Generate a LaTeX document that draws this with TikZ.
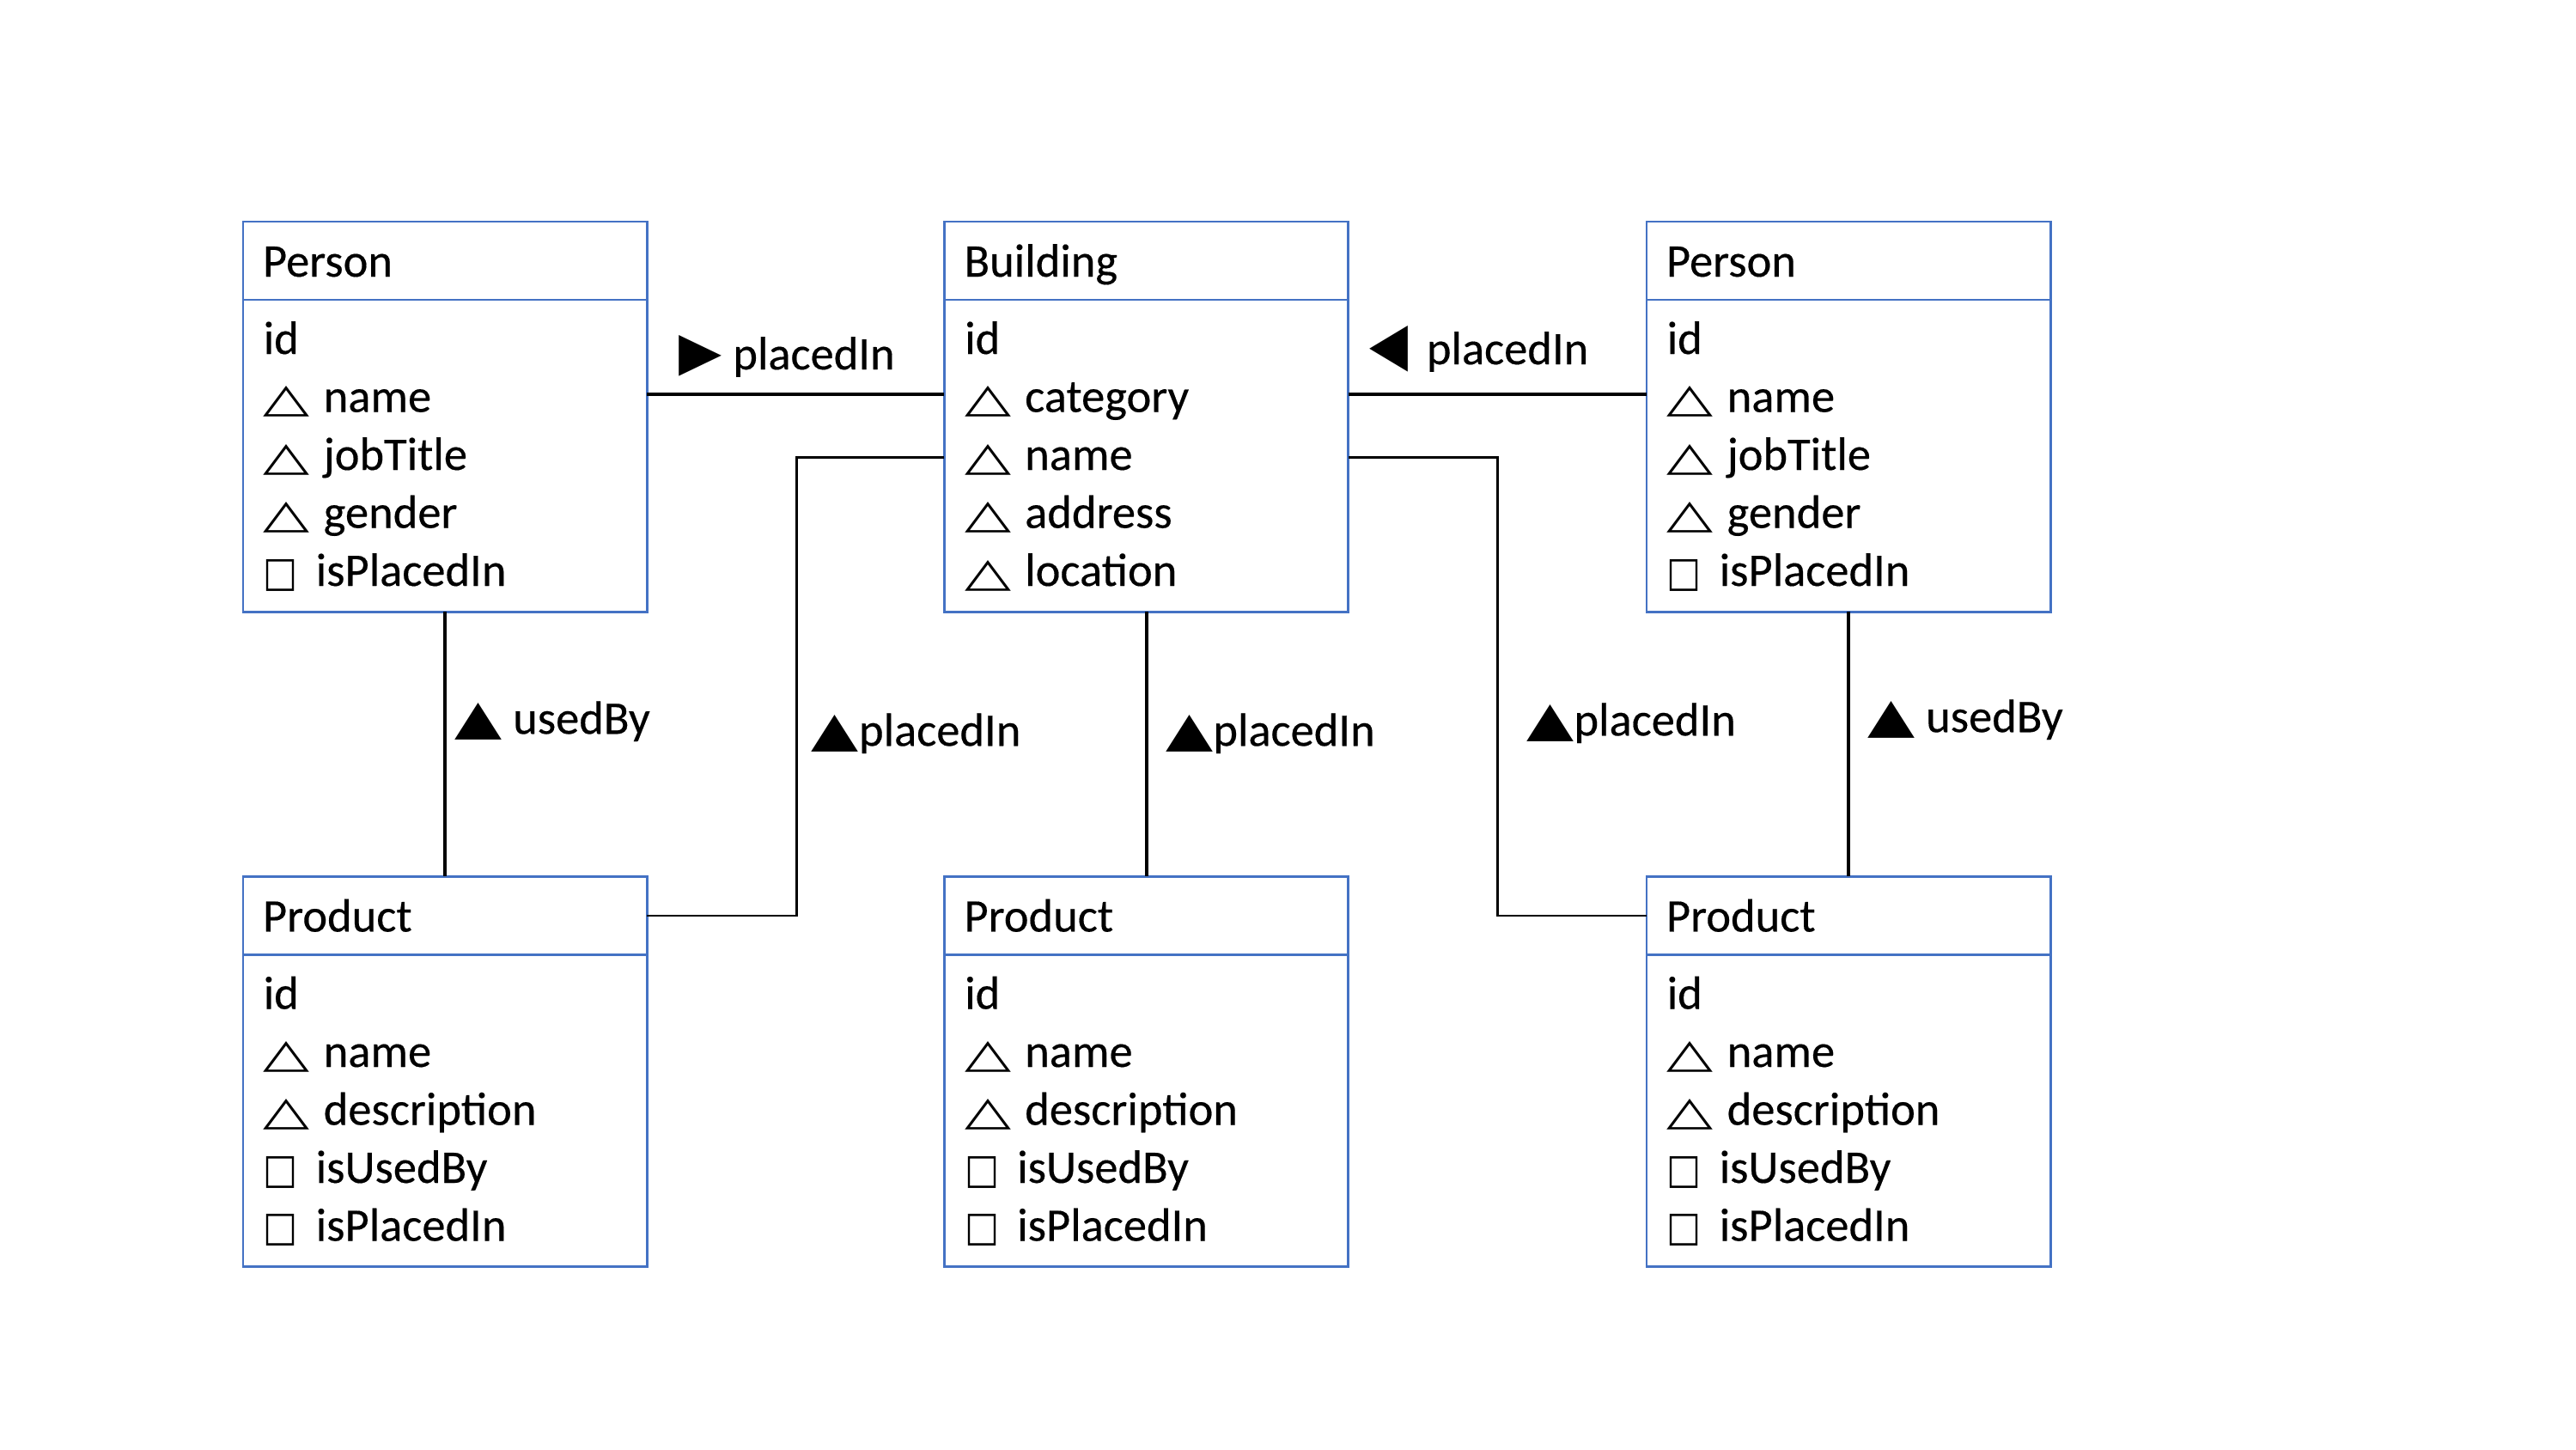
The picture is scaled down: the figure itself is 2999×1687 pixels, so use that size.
\documentclass[tikz,border=0pt]{standalone}
\usepackage{graphicx}
\usepackage{fontspec}
\setmainfont{Carlito}[FakeBold=0.3]
\newfontfamily\glyphfont{DejaVu Sans}
\usetikzlibrary{positioning}

\definecolor{umlblue}{RGB}{68,114,196}

% attribute markers and relation arrows
\newcommand{\opentri}{\makebox[0.70cm][l]{\resizebox{0.54cm}{0.30cm}{\glyphfont △}}}
\newcommand{\opensq}{\makebox[0.61cm][l]{\resizebox{0.40cm}{0.31cm}{\glyphfont □}}}
\newcommand{\solidup}{\resizebox{0.55cm}{0.36cm}{\glyphfont ▲}}
\newcommand{\solidright}{\resizebox{0.50cm}{0.40cm}{\glyphfont ▶}}
\newcommand{\solidleft}{\resizebox{0.45cm}{0.45cm}{\glyphfont ◀}}

\tikzset{
  classhead/.style={draw=umlblue, line width=0.8pt, outer sep=0pt, inner sep=0pt,
    inner xsep=0.23cm, minimum width=4.7cm, minimum height=0.91cm,
    text width=4.24cm, align=left, text height=0.45cm, text depth=0.08cm},
  classbody/.style={draw=umlblue, line width=0.8pt, outer sep=0pt, inner sep=0pt,
    minimum width=4.7cm, minimum height=3.63cm},
  attr/.style={anchor=base west, inner sep=0pt},
  rel/.style={line width=1.2pt},
  rellink/.style={line width=0.8pt},
  rellabel/.style={anchor=base west, inner sep=0pt}
}

% rows of a class body
\newcommand{\classrows}[2]{%
  \foreach \row [count=\k, evaluate=\k as \dy using 63+67.5*(\k-1)] in {#2}
    \node[attr] (#1-\k) at ([shift={(23,\dy)}]#1.north west) {\row};
}

\begin{document}
\begin{tikzpicture}[x=0.01cm, y=-0.01cm, font=\fontsize{15.5}{18}\selectfont]
\useasboundingbox (0,0) rectangle (2999,1687);

% classes
\node[classhead, anchor=north west] (pers1) at (283,258) {Person};
\node[classbody, below=0pt of pers1] (pers1b) {};
\node[classhead, right=3.46cm of pers1] (bld) {Building};
\node[classbody, below=0pt of bld] (bldb) {};
\node[classhead, right=3.47cm of bld] (pers2) {Person};
\node[classbody, below=0pt of pers2] (pers2b) {};

\node[classhead, below=3.08cm of pers1b] (prod1) {Product};
\node[classbody, below=0pt of prod1] (prod1b) {};
\node[classhead, below=3.08cm of bldb] (prod2) {Product};
\node[classbody, below=0pt of prod2] (prod2b) {};
\node[classhead, below=3.08cm of pers2b] (prod3) {Product};
\node[classbody, below=0pt of prod3] (prod3b) {};

\classrows{pers1b}{id, \opentri name, \opentri jobTitle, \opentri gender, \opensq isPlacedIn}
\classrows{bldb}{id, \opentri category, \opentri name, \opentri address, \opentri location}
\classrows{pers2b}{id, \opentri name, \opentri jobTitle, \opentri gender, \opensq isPlacedIn}
\classrows{prod1b}{id, \opentri name, \opentri description, \opensq isUsedBy, \opensq isPlacedIn}
\classrows{prod2b}{id, \opentri name, \opentri description, \opensq isUsedBy, \opensq isPlacedIn}
\classrows{prod3b}{id, \opentri name, \opentri description, \opensq isUsedBy, \opensq isPlacedIn}

% relations
\draw[rel] ([yshift=-1.1cm]pers1b.north east) -- ([yshift=-1.1cm]bldb.north west);
\draw[rel] ([yshift=-1.1cm]bldb.north east) -- ([yshift=-1.1cm]pers2b.north west);
\draw[rel] (pers1b.south) -- (prod1.north);
\draw[rel] (bldb.south) -- (prod2.north);
\draw[rel] (pers2b.south) -- (prod3.north);
\draw[rellink] ([yshift=-1.83cm]bldb.north west) -- ++(-172,0) |- (prod1.east);
\draw[rellink] ([yshift=-1.83cm]bldb.north east) -- ++(174,0) |- (prod3.west);

% relation labels
\node[rellabel] (lbl1) at ([shift={(37,81)}]pers1b.north east) {\solidright\ placedIn};
\node[rellabel] (lbl2) at ([shift={(24,75)}]bldb.north east) {\solidleft\ \,placedIn};
\node[rellabel] (lbl3) at ([shift={(11,142)}]pers1b.south) {\solidup\ usedBy};
\node[rellabel] (lbl4) at ([shift={(191,156)}]pers1b.south east) {\solidup placedIn};
\node[rellabel] (lbl5) at ([shift={(22,156)}]bldb.south) {\solidup placedIn};
\node[rellabel] (lbl6) at ([shift={(207,144)}]bldb.south east) {\solidup placedIn};
\node[rellabel] (lbl7) at ([shift={(22,140)}]pers2b.south) {\solidup\ usedBy};
\end{tikzpicture}
\end{document}
